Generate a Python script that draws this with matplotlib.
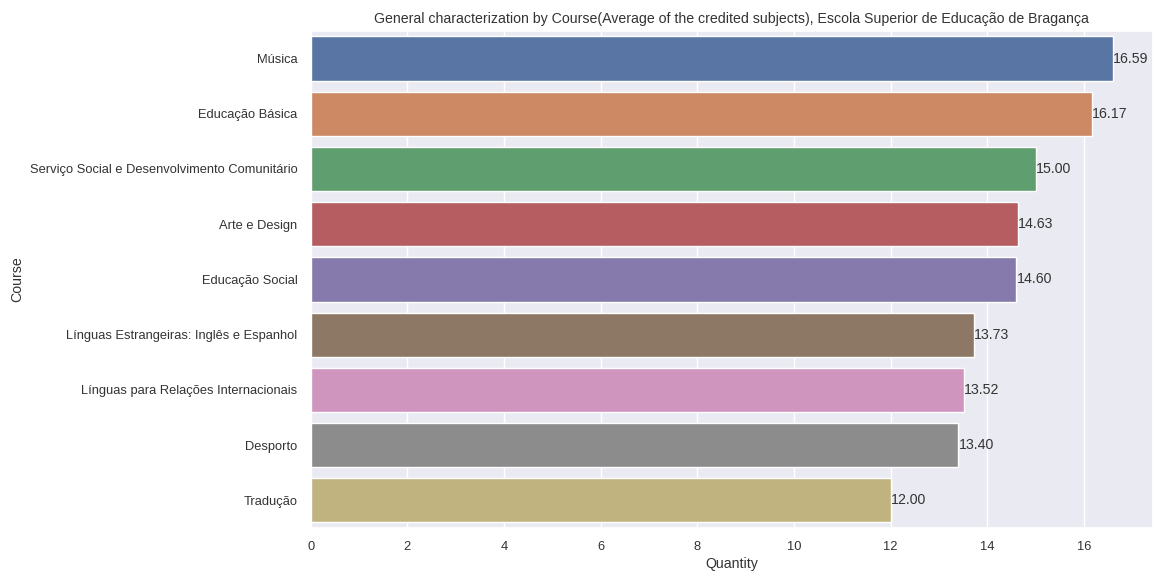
import matplotlib
matplotlib.use("Agg")
import matplotlib.pyplot as plt
import seaborn as sns

courses = [
    "Música",
    "Educação Básica",
    "Serviço Social e Desenvolvimento Comunitário",
    "Arte e Design",
    "Educação Social",
    "Línguas Estrangeiras: Inglês e Espanhol",
    "Línguas para Relações Internacionais",
    "Desporto",
    "Tradução",
]
averages = [16.59, 16.17, 15.00, 14.63, 14.60, 13.73, 13.52, 13.40, 12.00]

sns.set_theme(style="darkgrid", palette="deep")
plt.rcParams['font.family'] = ['Liberation Sans', 'DejaVu Sans']

fig = plt.figure(figsize=(11.55, 5.72), dpi=100)
ax = fig.add_axes([0.269, 0.077, 0.729, 0.869])

sns.barplot(x=averages, y=courses, hue=courses, palette="deep", legend=False, ax=ax)

for c in ax.containers:
    ax.bar_label(c, fmt="%.2f", fontsize=10.2, color="#333333")

ax.set_title("General characterization by Course(Average of the credited subjects), Escola Superior de Educação de Bragança",
             fontsize=10.2, color="#333333")
ax.set_xlabel("Quantity", fontsize=10.2, color="#333333", labelpad=3)
ax.set_ylabel("Course", fontsize=10.2, color="#333333")
ax.tick_params(axis="both", labelsize=9.3, labelcolor="#333333")

fig.savefig("out.png", dpi=100)
